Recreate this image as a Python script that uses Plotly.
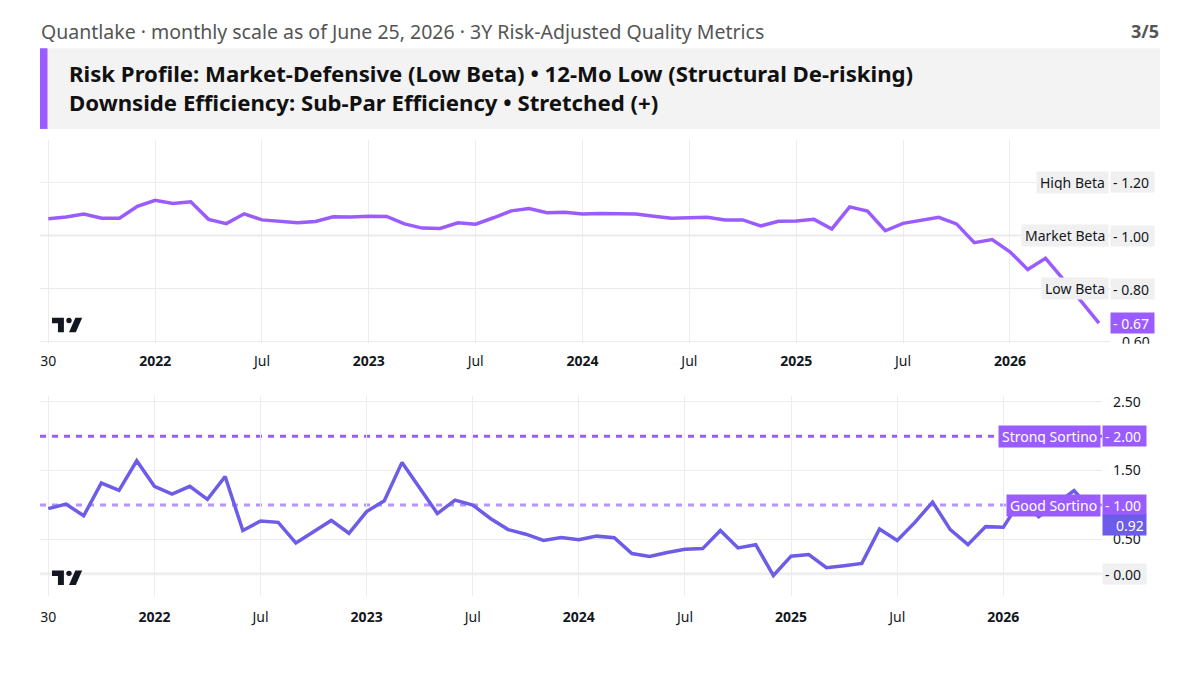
import plotly.graph_objects as go
import pandas as pd

# ---------------- data ----------------
try:
    dates = pd.date_range("2021-07-01", periods=60, freq="BME").strftime("%Y-%m-%d").tolist()
except Exception:
    dates = pd.date_range("2021-07-01", periods=60, freq="BM").strftime("%Y-%m-%d").tolist()

beta = [1.063, 1.070, 1.081, 1.065, 1.065, 1.110, 1.133, 1.121, 1.127, 1.061,
        1.045, 1.082, 1.059, 1.053, 1.048, 1.053, 1.071, 1.070, 1.073, 1.072,
        1.044, 1.028, 1.027, 1.048, 1.043, 1.067, 1.093, 1.102, 1.086, 1.088,
        1.081, 1.083, 1.081, 1.081, 1.073, 1.065, 1.067, 1.069, 1.059, 1.059,
        1.036, 1.054, 1.055, 1.061, 1.025, 1.108, 1.092, 1.018, 1.046, 1.056,
        1.069, 1.044, 0.973, 0.985, 0.939, 0.872, 0.914, 0.835, 0.750, 0.670]

sortino = [0.947, 1.014, 0.843, 1.319, 1.214, 1.643, 1.271, 1.157, 1.271, 1.081,
           1.414, 0.629, 0.767, 0.748, 0.448, 0.614, 0.776, 0.590, 0.905, 1.062,
           1.619, 1.248, 0.876, 1.071, 1.000, 0.805, 0.643, 0.576, 0.486, 0.529,
           0.495, 0.548, 0.524, 0.295, 0.252, 0.310, 0.357, 0.367, 0.629, 0.376,
           0.424, -0.024, 0.257, 0.281, 0.090, 0.119, 0.152, 0.652, 0.486, 0.748,
           1.043, 0.643, 0.424, 0.686, 0.676, 1.080, 0.830, 1.020, 1.210, 0.920]

x_tick_labels = ["30", "<b>2022</b>", "Jul", "<b>2023</b>", "Jul", "<b>2024</b>",
                 "Jul", "<b>2025</b>", "Jul", "<b>2026</b>"]
x_tick_vals = dates[0::6][:len(x_tick_labels)]

beta_levels = [1.20, 1.00, 0.80]
beta_level_names = ["High Beta", "Market Beta", "Low Beta"]
beta_grid = [0.60, 0.80, 1.00, 1.20]
sortino_grid = [0.5, 1.5, 2.5]
sortino_strong = 2.00
sortino_good = 1.00
sortino_zero = 0.00

subtitle = "Quantlake · monthly scale as of June 25, 2026 · 3Y Risk-Adjusted Quality Metrics"
page_label = "3/5"
headline1 = "Risk Profile: Market-Defensive (Low Beta) • 12-Mo Low (Structural De-risking)"
headline2 = "Downside Efficiency: Sub-Par Efficiency • Stretched (+)"

# ---------------- style ----------------
W, H = 1200, 675
FONT = "Noto Sans"
TXT = "#131722"
GRID = "#ececec"
VIOLET = "#9b5cff"
INDIGO = "#6c5ce7"
LIGHT_VIOLET = "#b794ff"
GRAYBOX = "#f0f0f0"


def px(x):
    return x / W


def py(y):
    return 1 - y / H


fig = go.Figure()
fig.add_trace(go.Scatter(x=dates, y=beta, mode="lines", xaxis="x", yaxis="y",
                         line=dict(color=VIOLET, width=3.5), hoverinfo="skip",
                         showlegend=False))
fig.add_trace(go.Scatter(x=dates, y=sortino, mode="lines", xaxis="x2", yaxis="y2",
                         line=dict(color=INDIGO, width=3.5), hoverinfo="skip",
                         showlegend=False))

axis_common = dict(type="category", tickvals=x_tick_vals, ticktext=x_tick_labels,
                   showgrid=True, gridcolor=GRID, gridwidth=1, zeroline=False,
                   showline=False, ticks="", tickfont=dict(family=FONT, size=14, color=TXT),
                   fixedrange=True)

fig.update_layout(
    width=W, height=H, margin=dict(l=0, r=0, t=0, b=0),
    paper_bgcolor="white", plot_bgcolor="white",
    font=dict(family=FONT, color=TXT),
    xaxis=dict(domain=[px(40), px(1110)], anchor="y", range=[-0.466, 59.62],
               ticklabelstandoff=8, **axis_common),
    xaxis2=dict(domain=[px(40), px(1102)], anchor="y2", range=[-0.469, 59.58],
                ticklabelstandoff=11, **axis_common),
    yaxis=dict(domain=[py(345), py(138)], anchor="x", side="right",
               range=[0.5937, 1.361], tickvals=beta_grid,
               ticktext=["0.60", "", "", ""], showgrid=True, gridcolor=GRID,
               zeroline=False, showline=False, ticks="", ticklabelstandoff=11,
               tickfont=dict(family=FONT, size=14, color=TXT)),
    yaxis2=dict(domain=[py(602), py(398)], anchor="x2", side="right",
                range=[-0.324, 2.59], tickvals=sortino_grid,
                ticktext=[f"{v:.2f}" for v in sortino_grid], showgrid=True,
                gridcolor=GRID, zeroline=False, showline=False, ticks="",
                ticklabelstandoff=10, tickfont=dict(family=FONT, size=14, color=TXT)),
)

shapes = []
# header box
shapes.append(dict(type="rect", xref="paper", yref="paper", x0=px(40), x1=px(1160),
                   y0=py(127), y1=py(45), fillcolor="#f3f3f3", line=dict(width=0), layer="below"))
shapes.append(dict(type="rect", xref="paper", yref="paper", x0=px(40), x1=px(47.5),
                   y0=py(127), y1=py(45), fillcolor=VIOLET, line=dict(width=0), layer="below"))
# beta reference lines
for lv in beta_levels:
    shapes.append(dict(type="line", xref="x domain", yref="y", x0=0, x1=1, y0=lv, y1=lv,
                       line=dict(color="#eaeaea", width=2 if lv == 1.0 else 1), layer="below"))
# sortino reference lines
shapes.append(dict(type="line", xref="x2 domain", yref="y2", x0=0, x1=1,
                   y0=sortino_zero, y1=sortino_zero,
                   line=dict(color="#efefef", width=3), layer="below"))
shapes.append(dict(type="line", xref="x2 domain", yref="y2", x0=0, x1=1,
                   y0=sortino_strong, y1=sortino_strong,
                   line=dict(color=VIOLET, width=3, dash="6px,6px"), layer="below"))
shapes.append(dict(type="line", xref="x2 domain", yref="y2", x0=0, x1=1,
                   y0=sortino_good, y1=sortino_good,
                   line=dict(color=LIGHT_VIOLET, width=3, dash="6px,6px"), layer="below"))
# mask for the clipped 0.60 label
shapes.append(dict(type="rect", xref="paper", yref="paper", x0=px(1110), x1=px(1160),
                   y0=py(352), y1=py(345.5), fillcolor="white", line=dict(width=0), layer="above"))


# TradingView-like logo
def logo(x0, y0, sx=0.85, sy=0.92):
    def P(X, Y):
        return f"{px(x0 + X * sx):.5f},{py(y0 + (Y - 6) * sy):.5f}"
    t = f"M{P(0,6)} L{P(14,6)} L{P(14,22)} L{P(7,22)} L{P(7,12)} L{P(0,12)} Z"
    s = f"M{P(20,22)} L{P(27.5,6)} L{P(35.5,6)} L{P(28,22)} Z"
    out = [dict(type="path", xref="paper", yref="paper", path=t, fillcolor="#131722",
                line=dict(width=0), layer="above"),
           dict(type="path", xref="paper", yref="paper", path=s, fillcolor="#131722",
                line=dict(width=0), layer="above")]
    cx, cy, r = x0 + 20 * sx, y0 + 3 * sy, 2.7
    out.append(dict(type="circle", xref="paper", yref="paper", x0=px(cx - r), x1=px(cx + r),
                    y0=py(cy + r), y1=py(cy - r), fillcolor="#131722", line=dict(width=0),
                    layer="above"))
    return out


shapes += logo(52, 319)
shapes += logo(52, 576)
fig.update_layout(shapes=shapes)

ann = []
# header texts
ann.append(dict(xref="paper", yref="paper", x=px(39), y=py(28), xanchor="left", yanchor="middle",
                text=subtitle, showarrow=False, font=dict(family=FONT, size=19.5, color="#555555")))
ann.append(dict(xref="paper", yref="paper", x=px(1161), y=py(27), xanchor="right", yanchor="middle",
                text=f"<b>{page_label}</b>", showarrow=False,
                font=dict(family=FONT, size=18, color="#555555")))
ann.append(dict(xref="paper", yref="paper", x=px(67), y=py(71), xanchor="left", yanchor="middle",
                text=f"<b>{headline1}</b>", showarrow=False,
                font=dict(family=FONT, size=22.2, color="#111111")))
ann.append(dict(xref="paper", yref="paper", x=px(67), y=py(100), xanchor="left", yanchor="middle",
                text=f"<b>{headline2}</b>", showarrow=False,
                font=dict(family=FONT, size=22.2, color="#111111")))


def value_box(yref, y, text, bg, fg, xpix, yshift=0):
    return dict(xref="paper", yref=yref, x=px(xpix), y=y, xanchor="left", yanchor="middle",
                text=text, showarrow=False, bgcolor=bg, borderpad=2, width=39, height=16,
                align="left", yshift=yshift, font=dict(family=FONT, size=14, color=fg))


def name_box(yref, y, text, bg, fg, xpix):
    return dict(xref="paper", yref=yref, x=px(xpix), y=y, xanchor="right", yanchor="middle",
                text=text, showarrow=False, bgcolor=bg, borderpad=3, height=15,
                font=dict(family=FONT, size=14, color=fg))


for lv, nm in zip(beta_levels, beta_level_names):
    ann.append(name_box("y", lv, nm, GRAYBOX, TXT, 1109))
    ann.append(value_box("y", lv, f"- {lv:.2f}", GRAYBOX, TXT, 1110))
ann.append(value_box("y", beta[-1], f"- {beta[-1]:.2f}", VIOLET, "white", 1110))

ann.append(name_box("y2", sortino_strong, "Strong Sortino", VIOLET, "white", 1101))
ann.append(value_box("y2", sortino_strong, f"- {sortino_strong:.2f}", VIOLET, "white", 1102))
ann.append(name_box("y2", sortino_good, "Good Sortino", VIOLET, "white", 1101))
ann.append(value_box("y2", sortino_good, f"- {sortino_good:.2f}", VIOLET, "white", 1102))
ann.append(value_box("y2", sortino[-1], f"   {sortino[-1]:.2f}", INDIGO, "white", 1102, yshift=-14.5))
ann.append(value_box("y2", sortino_zero, f"- {sortino_zero:.2f}", GRAYBOX, TXT, 1102))

fig.update_layout(annotations=ann)
fig.write_html("out.html")
